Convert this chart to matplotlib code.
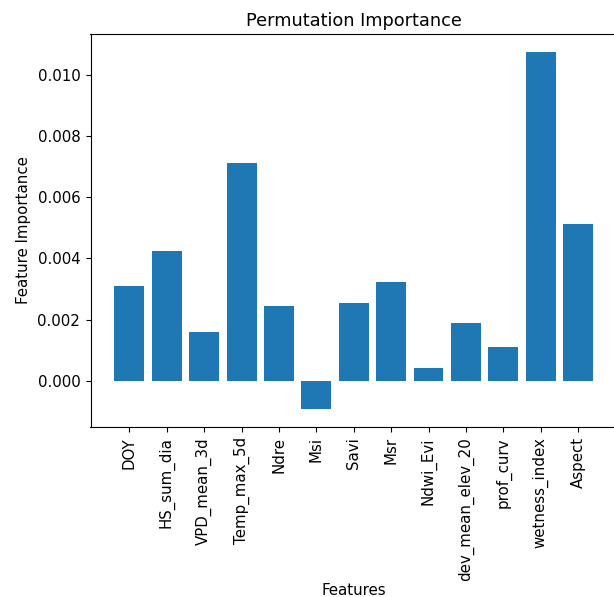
import numpy as np
import matplotlib
matplotlib.use("Agg")
import matplotlib.pyplot as plt

# Permutation importance per feature
features = ["DOY", "HS_sum_dia", "VPD_mean_3d", "Temp_max_5d", "Ndre", "Msi",
            "Savi", "Msr", "Ndwi_Evi", "dev_mean_elev_20", "prof_curv",
            "wetness_index", "Aspect"]
importance = [0.00311, 0.00426, 0.00161, 0.00711, 0.00245, -0.00093,
              0.00255, 0.00322, 0.00043, 0.00189, 0.00109, 0.01076, 0.00513]

plt.rcParams["font.size"] = 10.8
plt.rcParams["xtick.major.size"] = 3.8
plt.rcParams["ytick.major.size"] = 3.8

fig = plt.figure(figsize=(6.14, 5.97), dpi=100)
# axes run slightly past the right edge of the canvas
ax = fig.add_axes([90.5 / 614, 1 - 427 / 597, (617 - 90.5) / 614, (427 - 34) / 597])

ax.bar(features, importance, color="#1f77b4")
ax.set_xlabel("Features", labelpad=1.2)
ax.set_ylabel("Feature Importance", labelpad=5)
ax.set_title("Permutation Importance", fontsize=12.8)
ax.tick_params(axis="x", rotation=90)

fig.savefig("out.png", dpi=100)
